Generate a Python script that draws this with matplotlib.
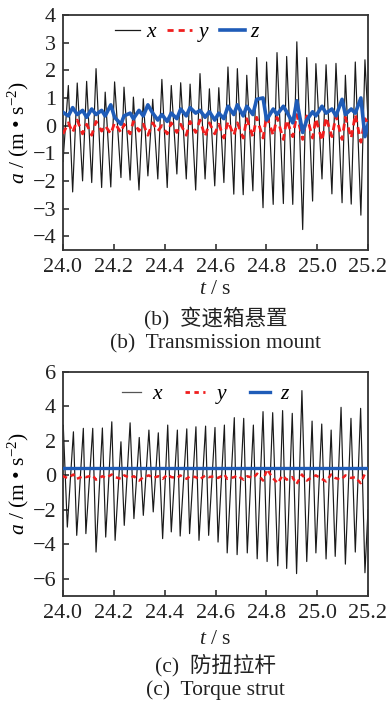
import numpy as np
import matplotlib
matplotlib.use("Agg")
import matplotlib.pyplot as plt
from matplotlib.lines import Line2D

plt.rcParams['font.family'] = ['Liberation Serif', 'Noto Sans CJK SC']
plt.rcParams['mathtext.fontset'] = 'custom'
plt.rcParams['mathtext.rm'] = 'Liberation Serif'
plt.rcParams['mathtext.it'] = 'Liberation Serif:italic'
plt.rcParams['axes.unicode_minus'] = True

# ---------------- (b) transmission mount ----------------
tm_x_peak_t = [24.021, 24.056, 24.093, 24.130, 24.166, 24.203, 24.240, 24.277, 24.316, 24.353,
               24.389, 24.426, 24.463, 24.500, 24.539, 24.576, 24.613, 24.649, 24.686, 24.723,
               24.762, 24.801, 24.842, 24.880, 24.920, 24.959, 24.995, 25.035, 25.074, 25.111,
               25.150, 25.188]
tm_x_peak_a = [1.45, 1.54, 1.60, 2.06, 1.21, 1.58, 1.39, 1.03, 0.97, 0.95,
               1.67, 1.45, 1.55, 1.50, 1.88, 1.33, 1.37, 2.12, 2.06, 1.82,
               2.46, 2.30, 2.64, 2.50, 3.03, 2.46, 2.24, 2.20, 2.25, 1.82,
               2.30, 2.38]
tm_x_trough_t = [24.038, 24.077, 24.113, 24.152, 24.188, 24.228, 24.264, 24.299, 24.334, 24.373,
                 24.410, 24.448, 24.485, 24.522, 24.559, 24.597, 24.633, 24.672, 24.709, 24.747,
                 24.787, 24.827, 24.867, 24.904, 24.943, 24.982, 25.019, 25.058, 25.098, 25.134,
                 25.172]
tm_x_trough_a = [-2.40, -2.00, -2.06, -2.24, -2.22, -1.88, -1.97, -2.33, -1.82, -1.93,
                 -2.24, -1.75, -1.93, -2.33, -1.93, -2.18, -2.06, -2.48, -2.50, -2.36,
                 -2.97, -2.85, -2.82, -2.85, -3.76, -2.73, -1.93, -2.47, -2.79, -2.84,
                 -3.24]
tm_x_ends_t = [24.000, 25.200]
tm_x_ends_a = [-1.30, 0.20]

# y and z sampled on the same time grid as the x extrema (plus both ends)
tm_y = [-0.30, 0.10, -0.25, 0.20, -0.30, 0.05, -0.35, 0.15, -0.20, 0.00,
        -0.30, 0.10, -0.25, 0.05, -0.30, 0.15, -0.20, 0.05, -0.35, 0.10,
        -0.20, 0.00, -0.30, 0.10, -0.25, 0.05, -0.35, 0.15, -0.25, 0.20,
        -0.40, 0.10, -0.30, 0.05, -0.45, 0.15, -0.35, 0.10, -0.45, 0.25,
        -0.40, 0.30, -0.45, 0.35, -0.35, 0.30, -0.50, 0.20, -0.40, 0.40,
        -0.50, 0.35, -0.45, 0.25, -0.55, 0.30, -0.40, 0.35, -0.50, 0.30,
        -0.45, 0.40, -0.60, 0.25, 0.10]
tm_z = [0.48, 0.35, 0.65, 0.40, 0.55, 0.30, 0.60, 0.40, 0.55, 0.35,
        0.75, 0.30, 0.05, 0.35, 0.45, 0.25, 0.55, 0.35, 0.75, 0.45,
        0.20, 0.40, 0.15, 0.45, 0.25, 0.60, 0.35, 0.65, 0.45, 0.55,
        0.30, 0.50, 0.20, 0.45, 0.25, 0.70, 0.40, 0.75, 0.35, 0.70,
        0.40, 0.95, 1.00, 0.20, 0.60, 0.40, 0.70, 0.50, 0.10, 0.90,
        -0.25, 0.20, 0.50, 0.35, 0.70, 0.45, 0.60, 0.35, 0.95, 0.40,
        0.60, 0.45, 1.00, -0.40, 0.05]

# ---------------- (c) torque strut ----------------
ts_x_peak_t = [24.001, 24.041, 24.080, 24.117, 24.155, 24.192, 24.228, 24.264, 24.300, 24.338,
               24.375, 24.412, 24.450, 24.487, 24.523, 24.561, 24.598, 24.635, 24.674, 24.711,
               24.749, 24.787, 24.825, 24.864, 24.902, 24.940, 24.980, 25.018, 25.055, 25.094,
               25.133, 25.171]
ts_x_peak_a = [2.92, 2.53, 2.73, 2.73, 2.75, 3.11, 1.95, 3.05, 2.20, 2.63,
               2.47, 2.92, 2.63, 2.70, 2.82, 2.86, 2.78, 2.92, 3.35, 3.31,
               2.92, 3.70, 3.64, 3.76, 3.60, 4.92, 3.15, 2.98, 2.63, 3.95,
               3.31, 3.89]
ts_x_trough_t = [24.017, 24.054, 24.090, 24.130, 24.168, 24.205, 24.241, 24.279, 24.316, 24.355,
                 24.392, 24.426, 24.461, 24.498, 24.535, 24.573, 24.610, 24.646, 24.685, 24.725,
                 24.764, 24.803, 24.845, 24.880, 24.919, 24.959, 24.995, 25.035, 25.071, 25.111,
                 25.150, 25.188]
ts_x_trough_a = [-3.00, -3.48, -3.38, -4.45, -3.58, -3.77, -2.90, -2.51, -2.32, -2.12,
                 -3.67, -3.28, -3.52, -3.38, -3.77, -3.48, -3.87, -4.50, -4.60, -4.50,
                 -4.84, -5.00, -5.25, -5.40, -5.70, -5.00, -4.50, -4.85, -4.70, -5.15,
                 -4.45, -5.65]
ts_x_ends_t = [24.000, 25.200]
ts_x_ends_a = [2.60, -2.00]

ts_y = [-0.10, -0.05, -0.15, 0.05, -0.20, -0.05, -0.10, 0.00, -0.25, -0.05, -0.15,
        0.05, -0.10, -0.20, 0.00, -0.15, -0.05, -0.30, -0.10, 0.00, -0.15,
        -0.05, -0.20, 0.05, -0.10, -0.15, 0.00, -0.20, -0.05, -0.10, -0.25,
        0.00, -0.10, -0.05, -0.15, 0.05, -0.20, -0.10, 0.00, -0.25, -0.05,
        -0.15, 0.10, -0.30, 0.35, -0.15, -0.45, 0.00, -0.25, -0.10, -0.50,
        0.05, -0.30, -0.10, 0.00, -0.20, -0.35, 0.05, -0.15, -0.25, 0.00,
        -0.15, -0.10, -0.45, 0.10, 0.05]
ts_z_t = [24.000, 25.200]
ts_z = [0.42, 0.42]

x_ticks = [24.0, 24.2, 24.4, 24.6, 24.8, 25.0, 25.2]
x_ticklabels = ["24.0", "24.2", "24.4", "24.6", "24.8", "25.0", "25.2"]


def merge(peak_t, peak_a, trough_t, trough_a, end_t, end_a):
    t = np.concatenate([peak_t, trough_t, end_t])
    a = np.concatenate([peak_a, trough_a, end_a])
    order = np.argsort(t, kind="stable")
    return t[order], a[order]


BLACK = "#1a1a1a"
RED = "#f01e1e"
BLUE = "#1f5cb8"
FS_TICK = 16
FS_LAB = 15.5

fig = plt.figure(figsize=(3.86, 7.04), dpi=100)
W, H = 386, 704


def make_axes(top_px, bottom_px):
    left, right = 63, 368
    return fig.add_axes([left / W, 1 - bottom_px / H, (right - left) / W,
                         (bottom_px - top_px) / H])


def style(ax, ylim, yticks):
    ax.set_xlim(24.0, 25.2)
    ax.set_ylim(*ylim)
    ax.set_xticks(x_ticks)
    ax.set_xticklabels(x_ticklabels)
    ax.set_yticks(yticks)
    ax.tick_params(direction="in", length=4, width=1.1, labelsize=FS_TICK,
                   top=False, right=False, colors="#222222")
    ax.tick_params(axis="x", pad=6)
    ax.tick_params(axis="y", pad=5)
    for s in ax.spines.values():
        s.set_linewidth(1.3)
        s.set_color("#333333")
    ax.set_ylabel(r"$a$ / (m • s$^{-2}$)", fontsize=FS_LAB, labelpad=1)


# --- upper panel
ax1 = make_axes(15, 250)
t1, a1 = merge(tm_x_peak_t, tm_x_peak_a, tm_x_trough_t, tm_x_trough_a, tm_x_ends_t, tm_x_ends_a)
ax1.plot(t1, a1, color=BLACK, lw=0.85, zorder=2)
ax1.plot(t1, tm_y, color=RED, lw=2.0, ls=(0, (2.5, 1.8)), zorder=3)
ax1.plot(t1, tm_z, color=BLUE, lw=2.6, zorder=4)
style(ax1, (-4.5, 4.0), np.arange(-4, 5, 1))
h1 = [Line2D([], [], color=BLACK, lw=0.9),
      Line2D([], [], color=RED, lw=2.0, ls=(0, (2.2, 1.8))),
      Line2D([], [], color=BLUE, lw=2.6)]
ax1.legend(h1, ["$x$", "$y$", "$z$"], ncol=3, frameon=False, fontsize=FS_LAB,
           loc="center", bbox_to_anchor=(0.41, 0.923), handlelength=1.15,
           handletextpad=0.25, columnspacing=0.45, borderpad=0)

# --- lower panel
ax2 = make_axes(372, 596)
t2, a2 = merge(ts_x_peak_t, ts_x_peak_a, ts_x_trough_t, ts_x_trough_a, ts_x_ends_t, ts_x_ends_a)
ax2.plot(t2, a2, color=BLACK, lw=0.85, zorder=2)
ax2.plot(t2, ts_y, color=RED, lw=1.8, ls=(0, (2.0, 1.6)), zorder=3)
ax2.plot(ts_z_t, ts_z, color=BLUE, lw=2.4, zorder=4)
style(ax2, (-7.0, 6.0), np.arange(-6, 7, 2))
h2 = [Line2D([], [], color="#555555", lw=0.9),
      Line2D([], [], color=RED, lw=2.0, ls=(0, (1.6, 1.6))),
      Line2D([], [], color=BLUE, lw=2.4)]
ax2.legend(h2, ["$x$", "$y$", "$z$"], ncol=3, frameon=False, fontsize=FS_LAB,
           loc="center", bbox_to_anchor=(0.47, 0.897), handlelength=0.9,
           handletextpad=0.5, columnspacing=1.0, borderpad=0)

# axis titles and captions
cx = 215.5 / W
for y_px, txt in [(290, r"$t$ / s"), (318, "(b)  变速箱悬置"), (344, "(b)  Transmission mount"),
                  (640, r"$t$ / s"), (665, "(c)  防扭拉杆"), (690, "(c)  Torque strut")]:
    fig.text(cx, 1 - y_px / H, txt, ha="center", va="center", fontsize=FS_LAB,
             color="#222222")

fig.savefig("out.png", dpi=100)
